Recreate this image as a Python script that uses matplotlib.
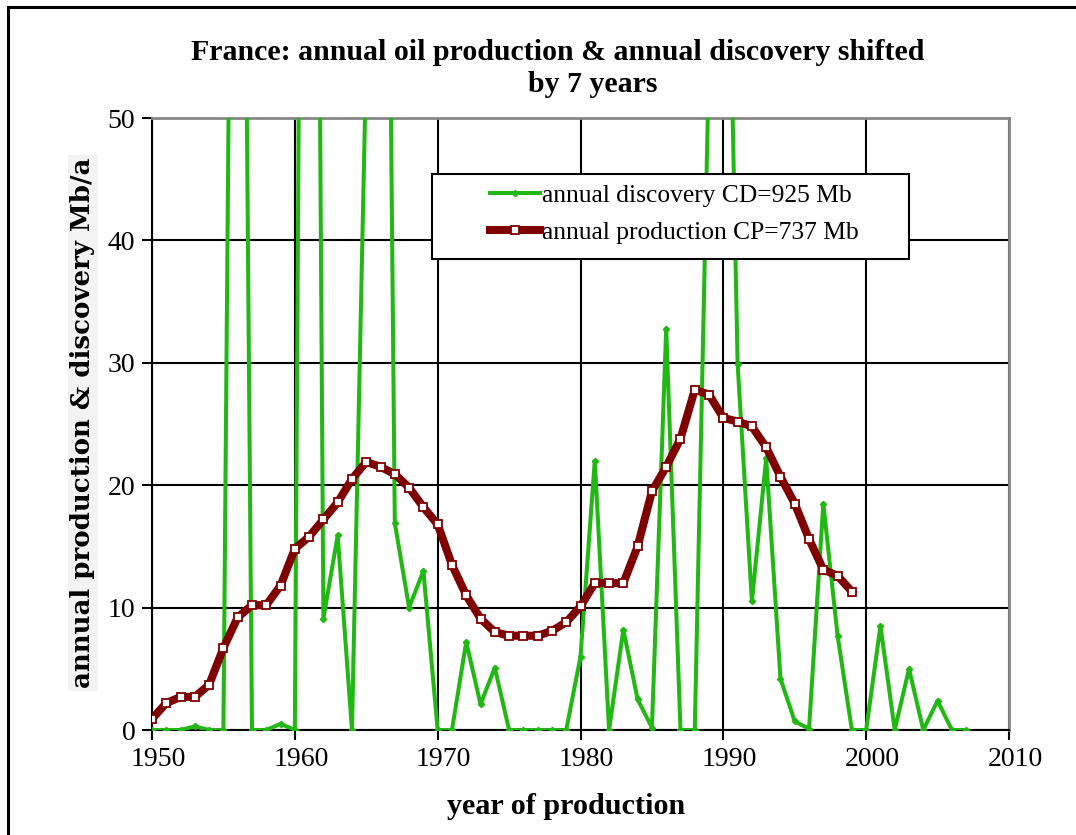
import matplotlib.pyplot as plt
import matplotlib.transforms as mtransforms
from matplotlib.patches import Rectangle

# annual discovery (shifted by 7 years), Mb/a
disc_years = list(range(1950, 2008))
discovery = [0, 0, 0, 0.3, 0, 0, 140, 0, 0, 0.5,
             0, 185, 9.1, 15.9, 0, 55, 140, 16.9, 10.0, 13.0,
             0, 0, 7.2, 2.1, 5.1, 0, 0, 0, 0, 0,
             6.0, 22.0, 0, 8.2, 2.5, 0.2, 32.8, 0, 0, 55,
             88, 29.9, 10.5, 22.2, 4.2, 0.7, 0.1, 18.5, 7.7, 0,
             0, 8.5, 0, 5.0, 0, 2.4, 0, 0]

# annual production, Mb/a
prod_years = list(range(1950, 2000))
production = [0.9, 2.2, 2.7, 2.7, 3.7, 6.7, 9.2, 10.2, 10.2, 11.8,
              14.8, 15.8, 17.2, 18.6, 20.5, 21.9, 21.5, 20.9, 19.8, 18.2,
              16.8, 13.5, 11.0, 9.1, 8.0, 7.7, 7.7, 7.7, 8.1, 8.8,
              10.1, 12.0, 12.0, 12.0, 15.0, 19.5, 21.5, 23.8, 27.8, 27.4,
              25.5, 25.2, 24.8, 23.1, 20.7, 18.5, 15.6, 13.1, 12.6, 11.3]

x_ticks = [1950, 1960, 1970, 1980, 1990, 2000, 2010]
y_ticks = [0, 10, 20, 30, 40, 50]

plt.rcParams['font.family'] = ['Liberation Serif', 'DejaVu Serif']

W, H = 1076, 835
fig = plt.figure(figsize=(W / 100, H / 100), dpi=100)
ax = fig.add_axes([152 / W, 1 - 730 / H, (1009 - 152) / W, (730 - 118) / H])

green = '#22b814'
darkred = '#7f0000'

ax.plot(disc_years, discovery, color=green, lw=2.9, marker='D', ms=3.2,
        mfc=green, mec=green, label='annual discovery CD=925 Mb', zorder=3)
ax.plot(prod_years, production, color=darkred, lw=5.8, marker='s', ms=6,
        mfc='white', mec=darkred, mew=1.3, label='annual production CP=737 Mb', zorder=4)

ax.set_xlim(1950, 2010)
ax.set_ylim(0, 50)
ax.set_xticks(x_ticks)
ax.set_yticks(y_ticks)
ax.tick_params(labelsize=20, direction='out', length=7, width=1.5, color='black', pad=5)
ax.grid(True, color='black', lw=1.5, zorder=1)
ax.set_axisbelow(True)

# year labels sit a little right of their ticks in the original
shift = mtransforms.ScaledTranslation(6 / 100, 0, fig.dpi_scale_trans)
for lab in ax.get_xticklabels():
    lab.set_transform(lab.get_transform() + shift)

ax.spines['left'].set_color('black')
ax.spines['bottom'].set_color('black')
ax.spines['left'].set_linewidth(1.5)
ax.spines['bottom'].set_linewidth(1.5)
ax.spines['top'].set_color('#888888')
ax.spines['right'].set_color('#888888')
ax.spines['top'].set_linewidth(2)
ax.spines['right'].set_linewidth(2)

# legend box drawn by hand so the entries can sit where they sit in the original
box = Rectangle(((432 - 152) / 857, 1 - (259 - 118) / 612), (909 - 432) / 857, (259 - 174) / 612,
                transform=ax.transAxes, facecolor='white', edgecolor='black', lw=1.5,
                zorder=6, clip_on=False)
ax.add_patch(box)
leg = ax.legend(loc='center left', bbox_to_anchor=((490 - 152) / 857, 1 - (214 - 118) / 612),
                fontsize=18.4, frameon=False, handlelength=1.95, handletextpad=0.1,
                borderpad=0, labelspacing=0.55, borderaxespad=0)
leg.set_zorder(7)

fig.text(558 / W, 1 - 53 / H, 'France: annual oil production & annual discovery shifted',
         ha='center', va='center', fontsize=21.5, fontweight='bold')
fig.text(593 / W, 1 - 85 / H, 'by 7 years',
         ha='center', va='center', fontsize=21.5, fontweight='bold')
fig.text(566 / W, 1 - 806 / H, 'year of production',
         ha='center', va='center', fontsize=21.7, fontweight='bold')
fig.text(83 / W, 1 - 423 / H, 'annual production & discovery Mb/a',
         ha='center', va='center', rotation=90, fontsize=18.7, fontweight='bold',
         family='DejaVu Serif',
         bbox=dict(facecolor='#f3f3f3', edgecolor='none', pad=2))

# outer border
fig.patches.append(Rectangle((8 / W, -0.1), 1.2, 1 - 7 / H + 0.1, transform=fig.transFigure,
                             fill=False, edgecolor='black', lw=2.2))

fig.savefig('out.png', dpi=100)
